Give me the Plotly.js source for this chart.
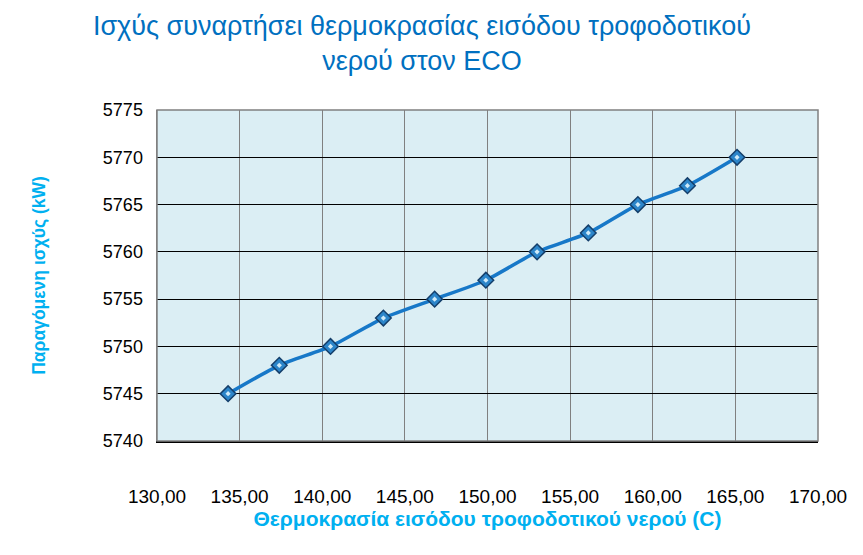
<!DOCTYPE html>
<html>
<head>
<meta charset="utf-8">
<script src="https://cdn.plot.ly/plotly-3.0.1.min.js"></script>
<style>
  html, body { margin: 0; padding: 0; background: #ffffff; }
  #plotDiv { width: 863px; height: 555px; }
</style>
</head>
<body>
<div id="plotDiv"></div>
<script>
'use strict';

// feed water inlet temperature (C) and produced power (kW)
const temperature = [134.3, 137.4, 140.5, 143.7, 146.8, 149.9, 153.0, 156.1, 159.1, 162.1, 165.1];
const power = [5745, 5748, 5750, 5753, 5755, 5757, 5760, 5762, 5765, 5767, 5770];

const xTicks = [130, 135, 140, 145, 150, 155, 160, 165, 170];
const xTickLabels = ['130,00', '135,00', '140,00', '145,00', '150,00', '155,00', '160,00', '165,00', '170,00'];
const yTicks = [5740, 5745, 5750, 5755, 5760, 5765, 5770, 5775];

const chartTitle = 'Ισχύς συναρτήσει θερμοκρασίας εισόδου τροφοδοτικού<br>νερού στον ECO';
const xTitle = 'Θερμοκρασία εισόδου τροφοδοτικού νερού (C)';
const yTitle = 'Παραγόμενη ισχύς (kW)';

var data = [{
    x: temperature,
    y: power,
    type: 'scatter',
    mode: 'lines+markers',
    line: { color: '#1778C8', width: 3.5, shape: 'spline', smoothing: 0.6 },
    marker: {
        symbol: 'diamond',
        size: 12,
        color: '#2C85C9',
        line: { color: '#143F6B', width: 1.5 }
    },
    hoverinfo: 'x+y'
}, {
    // small light centre on each marker
    x: temperature,
    y: power,
    type: 'scatter',
    mode: 'markers',
    marker: { symbol: 'diamond', size: 4, color: '#CFEAF8' },
    hoverinfo: 'skip'
}];

var layout = {
    width: 863,
    height: 555,
    showlegend: false,
    paper_bgcolor: '#ffffff',
    plot_bgcolor: '#DBEEF4',
    font: { family: 'Liberation Sans, Arial, sans-serif', size: 18, color: '#000000' },
    margin: { l: 157, r: 45, t: 110, b: 114, pad: 0 },
    title: {
        text: chartTitle,
        font: { family: 'Liberation Sans, Arial, sans-serif', size: 27, color: '#0070C0' },
        x: 0.489,
        xanchor: 'center',
        xref: 'container',
        y: 0.937,
        yanchor: 'middle',
        yref: 'container'
    },
    xaxis: {
        range: [130, 170],
        tickvals: xTicks,
        ticktext: xTickLabels,
        ticks: '',
        ticklabelstandoff: 37,
        showgrid: true,
        gridcolor: '#808080',
        gridwidth: 1,
        showline: true,
        linecolor: '#000000',
        linewidth: 2,
        mirror: false,
        zeroline: false,
        tickfont: { size: 19, color: '#000000' },
        title: {
            text: xTitle,
            standoff: 0,
            font: { family: 'Liberation Sans, Arial, sans-serif', size: 21, color: '#00B0F0', weight: 'bold' }
        }
    },
    yaxis: {
        range: [5740, 5775],
        tickvals: yTicks,
        ticks: '',
        ticklabelstandoff: 9,
        showgrid: true,
        gridcolor: '#000000',
        gridwidth: 1,
        showline: true,
        linecolor: '#808080',
        linewidth: 1.5,
        zeroline: false,
        tickfont: { size: 18, color: '#000000' },
        title: {
            text: yTitle,
            standoff: 52,
            font: { family: 'Liberation Sans, Arial, sans-serif', size: 17.5, color: '#00B0F0', weight: 'bold' }
        }
    },
    shapes: [{
        // grey frame round the plot area
        type: 'rect', xref: 'paper', yref: 'paper',
        x0: 0, x1: 1, y0: 0, y1: 1,
        line: { color: '#808080', width: 1.5 },
        layer: 'above'
    }]
};

Plotly.newPlot('plotDiv', data, layout, { displayModeBar: false, staticPlot: true });
</script>
</body>
</html>
